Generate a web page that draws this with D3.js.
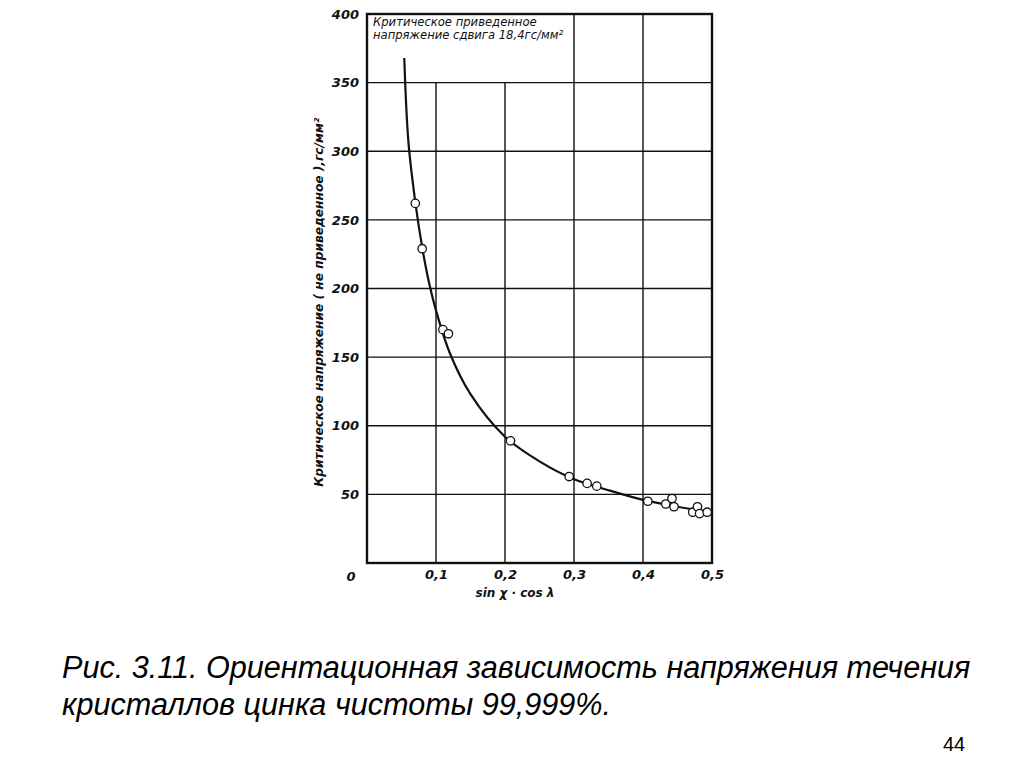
<!DOCTYPE html>
<html>
<head>
<meta charset="utf-8">
<script src="https://cdn.jsdelivr.net/npm/d3@7"></script>
<style>
  html, body { margin: 0; padding: 0; background: #fff; }
  svg { display: block; }
</style>
</head>
<body>
<svg id="chart" width="1024" height="767"></svg>
<script>
// Data
const xTicks = [0.1, 0.2, 0.3, 0.4, 0.5];
const xTickLabels = ["0,1", "0,2", "0,3", "0,4", "0,5"];
const yTicks = [50, 100, 150, 200, 250, 300, 350, 400];
const yTickLabels = ["50", "100", "150", "200", "250", "300", "350", "400"];

// measured points: sin(chi)*cos(lambda)
const pointX = [0.070, 0.080, 0.110, 0.118, 0.208, 0.293, 0.319, 0.333, 0.407, 0.433, 0.442, 0.445, 0.472, 0.479, 0.482, 0.493];
// measured points: critical stress, g/mm²
const pointY = [262, 229, 170, 167, 89, 63, 58, 56, 45, 43, 47, 41, 37, 41, 36, 37];

// fitted curve
const curveX = [0.054, 0.060, 0.070, 0.080, 0.090, 0.100, 0.120, 0.150, 0.200, 0.250, 0.300, 0.350, 0.400, 0.450, 0.500];
const curveY = [368, 307, 263, 230, 204, 184, 153, 123, 92, 74, 61, 53, 46, 41, 37];

const legendLines = ["Критическое  приведенное", "напряжение  сдвига  18,4гс/мм²"];
const xTitle = "sin χ · cos λ";
const yTitle = "Критическое  напряжение  ( не приведенное ),гс/мм²";
const captionLines = ["Рис. 3.11. Ориентационная зависимость напряжения течения",
                      "кристаллов цинка чистоты 99,999%."];
const pageNumber = "44";

const svg = d3.select("#chart");
const pLeft = 367, pRight = 712, pTop = 14, pBottom = 563;

const x = d3.scaleLinear().domain([0, 0.5]).range([pLeft, pRight]);
const y = d3.scaleLinear().domain([0, 400]).range([pBottom, pTop]);

const ink = "#111";
const g = svg.append("g");

// vertical gridlines (0.1 and 0.2 stop at 350; 0.3, 0.4 go full height)
xTicks.slice(0, 4).forEach(t => {
  const yTop = (t < 0.25) ? y(350) : y(400);
  g.append("line")
    .attr("x1", x(t)).attr("x2", x(t))
    .attr("y1", yTop).attr("y2", y(0))
    .attr("stroke", ink).attr("stroke-width", 1.4);
});
// horizontal gridlines
yTicks.slice(0, 7).forEach(t => {
  g.append("line")
    .attr("x1", x(0)).attr("x2", x(0.5))
    .attr("y1", y(t)).attr("y2", y(t))
    .attr("stroke", ink).attr("stroke-width", 1.4);
});
// frame
g.append("rect")
  .attr("x", x(0)).attr("y", y(400))
  .attr("width", x(0.5) - x(0)).attr("height", y(0) - y(400))
  .attr("fill", "none").attr("stroke", ink).attr("stroke-width", 2.4);

// axes tick labels via d3 axes
const fontAx = "'DejaVu Sans', sans-serif";
const yAxis = d3.axisLeft(y).tickValues(yTicks).tickSize(0).tickPadding(8)
  .tickFormat((d, i) => yTickLabels[i]);
const yg = svg.append("g").attr("transform", `translate(${pLeft},0)`).call(yAxis);
yg.select(".domain").remove();
yg.selectAll("text")
  .attr("font-family", fontAx).attr("font-size", 13)
  .attr("font-style", "italic").attr("font-weight", "bold").attr("fill", ink);

const xAxis = d3.axisBottom(x).tickValues(xTicks).tickSize(0).tickPadding(7)
  .tickFormat((d, i) => xTickLabels[i]);
const xg = svg.append("g").attr("transform", `translate(0,${pBottom})`).call(xAxis);
xg.select(".domain").remove();
xg.selectAll("text")
  .attr("font-family", fontAx).attr("font-size", 13)
  .attr("font-style", "italic").attr("font-weight", "bold").attr("fill", ink);

// shared origin label
svg.append("text")
  .attr("x", x(0) - 16).attr("y", y(0) + 18)
  .attr("text-anchor", "middle")
  .attr("font-family", fontAx).attr("font-size", 13)
  .attr("font-style", "italic").attr("font-weight", "bold").attr("fill", ink)
  .text("0");

// axis titles
svg.append("text")
  .attr("x", x(0.2) + 10).attr("y", y(0) + 34)
  .attr("text-anchor", "middle")
  .attr("font-family", fontAx).attr("font-size", 12)
  .attr("font-style", "italic").attr("font-weight", "bold").attr("fill", ink)
  .text(xTitle);

svg.append("text")
  .attr("transform", `translate(323, ${y(190)}) rotate(-90)`)
  .attr("text-anchor", "middle")
  .attr("font-family", fontAx).attr("font-size", 12.2)
  .attr("font-style", "italic").attr("font-weight", "bold").attr("fill", ink)
  .text(yTitle);

// legend text inside the top-left cell
legendLines.forEach((s, i) => {
  svg.append("text")
    .attr("x", x(0) + 6).attr("y", y(400) + 12 + i * 12.5)
    .attr("font-family", fontAx).attr("font-size", 11.6)
    .attr("font-style", "italic").attr("fill", ink)
    .text(s);
});

// fitted curve
const curvePts = curveX.map((v, i) => [v, curveY[i]]);
svg.append("path")
  .datum(curvePts)
  .attr("d", d3.line().x(d => x(d[0])).y(d => y(d[1])).curve(d3.curveCatmullRom.alpha(0.5)))
  .attr("fill", "none").attr("stroke", ink).attr("stroke-width", 2.2);

// points
svg.append("g").selectAll("circle")
  .data(pointX.map((v, i) => [v, pointY[i]]))
  .join("circle")
  .attr("cx", d => x(d[0])).attr("cy", d => y(d[1]))
  .attr("r", 4.2)
  .attr("fill", "#fff").attr("stroke", ink).attr("stroke-width", 1.3);

// caption
const capFont = "'Liberation Sans', Arial, sans-serif";
captionLines.forEach((s, i) => {
  svg.append("text")
    .attr("x", 62).attr("y", 678 + i * 37)
    .attr("font-family", capFont).attr("font-size", 30.6)
    .attr("font-style", "italic").attr("fill", "#000")
    .text(s);
});
svg.append("text")
  .attr("x", 943).attr("y", 751)
  .attr("font-family", capFont).attr("font-size", 20)
  .attr("fill", "#000")
  .text(pageNumber);
</script>
</body>
</html>
